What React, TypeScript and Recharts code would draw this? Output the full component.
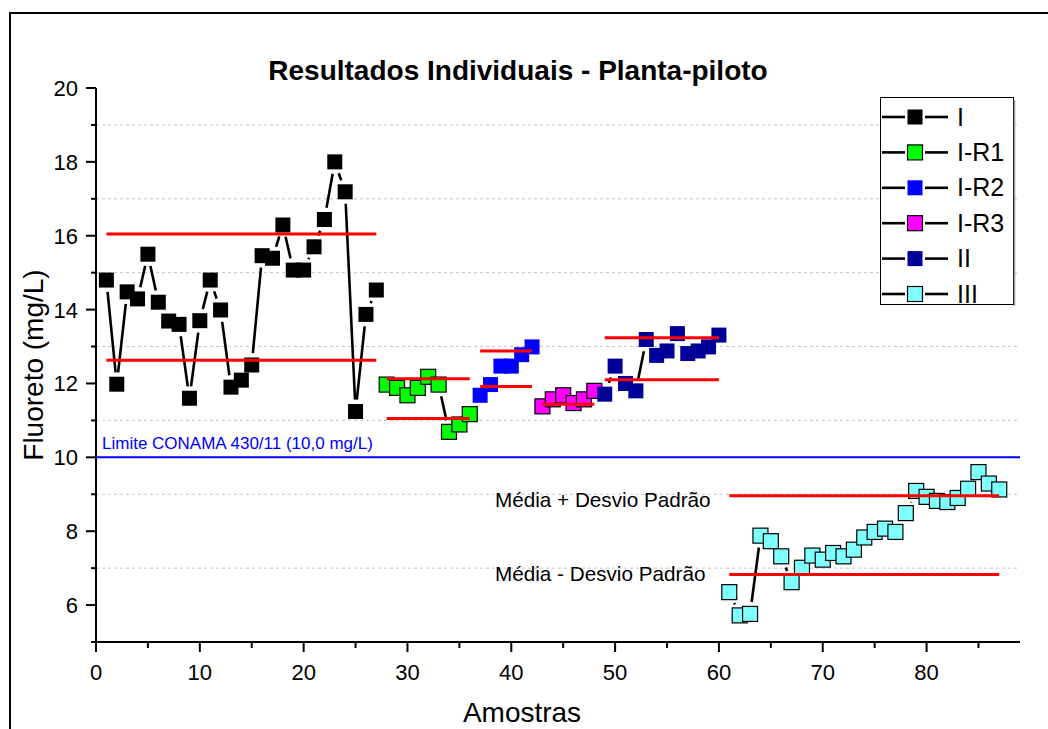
import React from 'react';
import { ComposedChart, Scatter, XAxis, YAxis, ReferenceLine, Legend } from 'recharts';

// samples are numbered consecutively from the start number of each group
const startI = 1;
const valuesI = [14.8, 11.98, 14.48, 14.29, 15.5, 14.2, 13.69, 13.6, 11.6, 13.7, 14.8, 13.99, 11.9, 12.09, 12.5, 15.46, 15.39, 16.29, 15.07, 15.07, 15.7, 16.44, 18.0, 17.19, 11.24, 13.87, 14.53];
const startR1 = 28;
const valuesR1 = [11.97, 11.88, 11.68, 11.88, 12.18, 11.97, 10.69, 10.89, 11.17];
const startR2 = 37;
const valuesR2 = [11.68, 11.97, 12.47, 12.47, 12.78, 12.99];
const startR3 = 43;
const valuesR3 = [11.38, 11.57, 11.68, 11.47, 11.57, 11.8];
const startII = 49;
const valuesII = [11.71, 12.47, 12.0, 11.8, 13.19, 12.76, 12.88, 13.35, 12.81, 12.88, 12.99, 13.31];
const startIII = 61;
const valuesIII = [6.35, 5.72, 5.76, 7.88, 7.73, 7.32, 6.62, 7.01, 7.34, 7.23, 7.41, 7.32, 7.5, 7.83, 7.98, 8.07, 7.98, 8.49, 9.09, 8.93, 8.82, 8.79, 8.9, 9.15, 9.6, 9.29, 9.13];

// mean + sd / mean - sd per group (null = not drawn)
const meanPlusSd = [16.05, 12.13, 12.88, null, 13.24, 8.96];
const meanMinusSd = [12.63, 11.05, 11.92, 11.44, 12.1, 6.83];

const limitValue = 10;
const xTicks = [0, 5, 10, 15, 20, 25, 30, 35, 40, 45, 50, 55, 60, 65, 70, 75, 80, 85];
const yTicks = [5, 6, 7, 8, 9, 10, 11, 12, 13, 14, 15, 16, 17, 18, 19, 20];
const gridY = [7, 9, 11, 13, 15, 17, 19];

const groups = [
  { name: 'I', start: startI, values: valuesI, fill: '#000000', stroke: 'none' },
  { name: 'I-R1', start: startR1, values: valuesR1, fill: '#00ff00', stroke: '#000' },
  { name: 'I-R2', start: startR2, values: valuesR2, fill: '#0000ff', stroke: 'none' },
  { name: 'I-R3', start: startR3, values: valuesR3, fill: '#ff00ff', stroke: '#000' },
  { name: 'II', start: startII, values: valuesII, fill: '#000099', stroke: 'none' },
  { name: 'III', start: startIII, values: valuesIII, fill: '#80ffff', stroke: '#000' },
];

const toPoints = (start: number, values: number[]) => values.map((y, i) => ({ x: start + i, y }));

const font = 'Arial, "Liberation Sans", sans-serif';
const GAP = 12; // line stops this far from each symbol centre, Origin style

// connecting line with gaps around the symbols
const GappedLine = (props: any) => {
  const pts = (props.points || []).map((p: any) => ({ x: p.x ?? p.cx, y: p.y ?? p.cy }));
  const segs = [];
  for (let i = 1; i < pts.length; i++) {
    const a = pts[i - 1];
    const b = pts[i];
    const dx = b.x - a.x;
    const dy = b.y - a.y;
    const d = Math.sqrt(dx * dx + dy * dy);
    if (d <= 2 * GAP) continue;
    const ux = dx / d;
    const uy = dy / d;
    segs.push(
      <line
        key={i}
        x1={a.x + ux * GAP}
        y1={a.y + uy * GAP}
        x2={b.x - ux * GAP}
        y2={b.y - uy * GAP}
        stroke="#000"
        strokeWidth={2.6}
      />
    );
  }
  return <g>{segs}</g>;
};

const XTick = (props: any) => {
  const { x, y, payload } = props;
  const major = payload.value % 10 === 0;
  return (
    <g>
      <line x1={x} x2={x} y1={y} y2={y + (major ? 10 : 6)} stroke="#000" strokeWidth={2} />
      {major && (
        <text x={x} y={y + 38} textAnchor="middle" fontSize={22} fill="#000" fontFamily={font}>
          {payload.value}
        </text>
      )}
    </g>
  );
};

const YTick = (props: any) => {
  const { x, y, payload } = props;
  const major = payload.value % 2 === 0;
  return (
    <g>
      <line x1={x} x2={x - (major ? 10 : 5)} y1={y} y2={y} stroke="#000" strokeWidth={2} />
      {major && (
        <text x={x - 18} y={y + 8} textAnchor="end" fontSize={22} fill="#000" fontFamily={font}>
          {payload.value}
        </text>
      )}
    </g>
  );
};

const LegendBox = () => (
  <svg width={136} height={210} style={{ display: 'block' }}>
    <rect x={0.5} y={0.5} width={133} height={207} fill="#fff" stroke="#000" strokeWidth={1} />
    <line x1={134.5} x2={134.5} y1={3} y2={209} stroke="#999" strokeWidth={1.5} />
    {groups.map((g, i) => {
      const cy = 20 + i * 35.4;
      return (
        <g key={g.name}>
          <line x1={2} x2={25} y1={cy} y2={cy} stroke="#000" strokeWidth={2.6} />
          <rect x={27.5} y={cy - 7.5} width={15} height={15} fill={g.fill} stroke={g.stroke} strokeWidth={1.2} />
          <line x1={45} x2={68} y1={cy} y2={cy} stroke="#000" strokeWidth={2.6} />
          <text x={77} y={cy + 8.5} fontSize={25} fontFamily={font} fill="#000">{g.name}</text>
        </g>
      );
    })}
  </svg>
);

export default function App() {
  return (
    <div style={{ position: 'absolute', left: 0, top: 0, width: 1048, height: 729, background: '#fff', overflow: 'hidden', fontFamily: font }}>
      <div style={{ position: 'absolute', left: 9, top: 12, width: 1100, height: 800, borderLeft: '2px solid #000', borderTop: '2px solid #000' }} />
      <div style={{ position: 'absolute', left: 0, top: 0 }}>
        <ComposedChart width={1048} height={729} margin={{ top: 88, right: 28, bottom: 0, left: 0 }}>
          {gridY.map((v) => (
            <ReferenceLine key={`g${v}`} y={v} stroke="#c4c4c4" strokeDasharray="3 3" strokeWidth={1} zIndex={-100} />
          ))}
          <XAxis
            type="number"
            dataKey="x"
            domain={[0, 89]}
            ticks={xTicks}
            interval={0}
            height={87}
            tickSize={0}
            tickMargin={0}
            tick={XTick}
            tickLine={false}
            axisLine={{ stroke: '#000', strokeWidth: 2 }}
          />
          <YAxis
            type="number"
            dataKey="y"
            domain={[5, 20]}
            ticks={yTicks}
            interval={0}
            width={96}
            tickSize={0}
            tickMargin={0}
            tick={YTick}
            tickLine={false}
            axisLine={{ stroke: '#000', strokeWidth: 2 }}
          />
          <ReferenceLine y={limitValue} stroke="#0000ff" strokeWidth={2} />
          {groups.map((g) => (
            <Scatter
              key={g.name}
              name={g.name}
              data={toPoints(g.start, g.values)}
              isAnimationActive={false}
              line={GappedLine}
              shape={(p: any) => (
                <rect x={p.cx - 7.5} y={p.cy - 7.5} width={15} height={15} fill={g.fill} stroke={g.stroke} strokeWidth={1.2} />
              )}
            />
          ))}
          {groups.map((g, i) => {
            const end = g.start + g.values.length - 1;
            const hi = meanPlusSd[i];
            const lo = meanMinusSd[i];
            return (
              <React.Fragment key={`sd${g.name}`}>
                {hi !== null && (
                  <ReferenceLine segment={[{ x: g.start, y: hi }, { x: end, y: hi }]} stroke="#ff0000" strokeWidth={3} zIndex={700} />
                )}
                {lo !== null && (
                  <ReferenceLine segment={[{ x: g.start, y: lo }, { x: end, y: lo }]} stroke="#ff0000" strokeWidth={3} zIndex={700} />
                )}
              </React.Fragment>
            );
          })}
          <Legend
            layout="vertical"
            align="center"
            verticalAlign="middle"
            wrapperStyle={{ left: 880, top: 97, width: 136, height: 210 }}
            content={() => <LegendBox />}
          />
        </ComposedChart>
      </div>
      <svg width={1048} height={729} style={{ position: 'absolute', left: 0, top: 0, pointerEvents: 'none' }}>
        <text x={518} y={80} textAnchor="middle" fontSize={28} fontWeight="bold" fontFamily={font} fill="#000">
          Resultados Individuais - Planta-piloto
        </text>
        <text x={522} y={722} textAnchor="middle" fontSize={28} fontFamily={font} fill="#000">Amostras</text>
        <text transform="translate(43,365) rotate(-90)" textAnchor="middle" fontSize={28} fontFamily={font} fill="#000">
          Fluoreto (mg/L)
        </text>
        <text x={102} y={449} fontSize={17} fontFamily={font} fill="#0000ff">Limite CONAMA 430/11 (10,0 mg/L)</text>
        <text x={495} y={507} fontSize={20.7} fontFamily={font} fill="#000">Média + Desvio Padrão</text>
        <text x={495} y={581} fontSize={20.7} fontFamily={font} fill="#000">Média - Desvio Padrão</text>
      </svg>
    </div>
  );
}
